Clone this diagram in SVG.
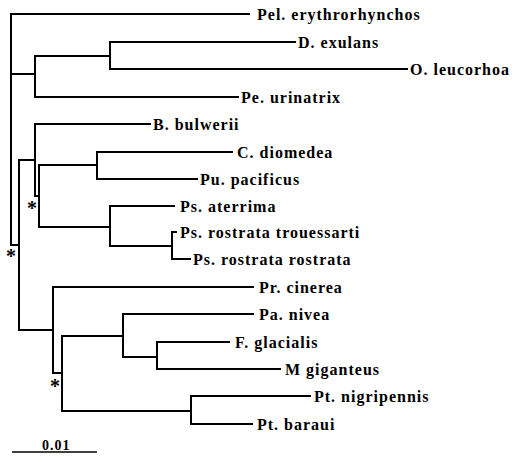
<svg xmlns="http://www.w3.org/2000/svg" width="512" height="456" viewBox="0 0 512 456">
<style>
.br{fill:none;stroke:#000;stroke-width:2;stroke-linecap:square}
.lb{font-family:"Liberation Serif","Times New Roman",serif;font-weight:bold;font-size:16px;letter-spacing:1px;fill:#000}
.st{font-family:"Liberation Serif","Times New Roman",serif;font-weight:bold;font-size:20px;fill:#000;text-anchor:middle}
.sc{font-family:"Liberation Serif","Times New Roman",serif;font-weight:bold;font-size:14px;letter-spacing:1px;fill:#000}
</style>
<rect width="512" height="456" fill="#fff"/>
<g id="connectors" class="br">
<path d="M11,14V245M11,14H249"/>
<path d="M11,74H35M35,56V97M35,56H110M110,42V69M110,42H295M110,69H407M35,97H238"/>
<path d="M11,245H19M19,160V330M19,160H35M35,124V196M35,124H150M35,196H39M39,165V227M39,165H97M97,152V179M97,152H232M97,179H197M39,227H110M110,206V246M110,206H174M110,246H172M172,232V259M172,232H176M172,259H190"/>
<path d="M19,330H53M53,287V373M53,287H253M53,373H62M62,336V411M62,336H123M123,314V357M123,314H253M123,357H157M157,342V369M157,342H229M157,369H280M62,411H191M191,396V424M191,396H310M191,424H252"/>
</g>
<g id="n-pel"><text class="lb" x="257" y="19.5">Pel. erythrorhynchos</text></g>
<g id="n-dex"><text class="lb" x="298" y="47.5">D. exulans</text></g>
<g id="n-ole"><text class="lb" x="410" y="74.5">O. leucorhoa</text></g>
<g id="n-peu"><text class="lb" x="241" y="102.5">Pe. urinatrix</text></g>
<g id="n-bbu"><text class="lb" x="153" y="129.5">B. bulwerii</text></g>
<g id="n-cdi"><text class="lb" x="237" y="157.5">C. diomedea</text></g>
<g id="n-pup"><text class="lb" x="200" y="184.5">Pu. pacificus</text></g>
<g id="n-psa"><text class="lb" x="180" y="211.5">Ps. aterrima</text></g>
<g id="n-psrt"><text class="lb" x="180" y="237.5">Ps. rostrata trouessarti</text></g>
<g id="n-psrr"><text class="lb" x="193" y="264.5">Ps. rostrata rostrata</text></g>
<g id="n-prc"><text class="lb" x="259" y="292.5">Pr. cinerea</text></g>
<g id="n-pan"><text class="lb" x="259" y="319.5">Pa. nivea</text></g>
<g id="n-fgl"><text class="lb" x="235" y="347.5">F. glacialis</text></g>
<g id="n-mgi"><text class="lb" x="285" y="374.5">M giganteus</text></g>
<g id="n-ptn"><text class="lb" x="314" y="401.5">Pt. nigripennis</text></g>
<g id="n-ptb"><text class="lb" x="257" y="429.5">Pt. baraui</text></g>
<g id="support">
<text class="st" x="32" y="215">*</text>
<text class="st" x="11" y="263">*</text>
<text class="st" x="55" y="393">*</text>
</g>
<g id="scale">
<path d="M12,452H97" stroke="#000" stroke-width="1.5"/>
<text class="sc" x="42" y="450">0.01</text>
</g>
</svg>
